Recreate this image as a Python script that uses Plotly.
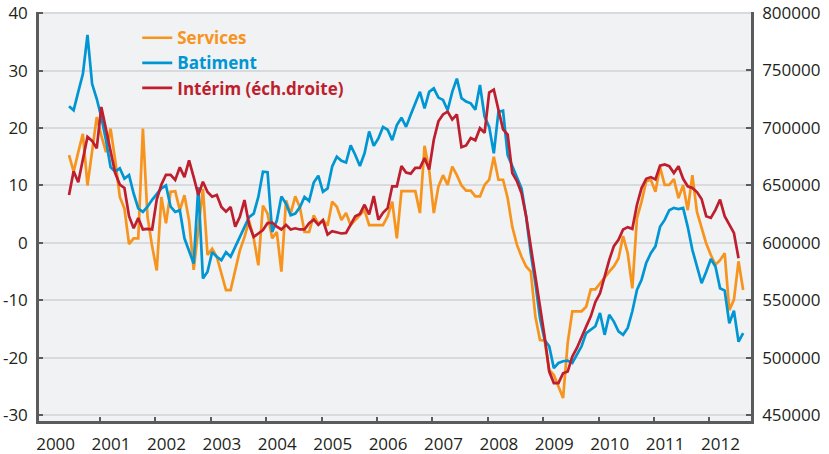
import plotly.graph_objects as go

# ---------------- data (monthly, first point ~ June 2000) ----------------
year_ticks = list(range(2001, 2013))
year_labels = [str(y) for y in range(2000, 2013)]
left_ticks = [-30, -20, -10, 0, 10, 20, 30, 40]
right_ticks = [450000, 500000, 550000, 600000, 650000, 700000, 750000, 800000]

services = [
    15.3, 12.4, 15.8, 19.0, 10.0, 16.4, 21.9, 18.7, 15.8, 19.9,
    14.4, 8.0, 6.0, -0.2, 0.8, 0.8, 19.9, 4.6, -0.6, -4.8,
    8.0, 3.4, 8.9, 9.0, 5.7, 8.3, 3.9, -4.7, 2.0, 9.4,
    -2.1, -1.0, -2.4, -5.3, -8.2, -8.2, -4.7, -1.3, 1.0, 3.9,
    0.8, -3.9, 6.5, 5.1, 0.8, 1.9, -5.0, 7.4, 5.1, 8.1,
    6.2, 1.9, 1.9, 4.8, 3.3, 4.0, 3.0, 7.2, 6.3, 4.0,
    5.2, 3.1, 4.0, 4.9, 5.7, 3.1, 3.1, 3.1, 3.1, 4.6,
    7.2, 0.8, 9.0, 9.0, 9.0, 9.0, 5.2, 16.9, 12.7, 5.2,
    9.8, 11.8, 10.1, 13.3, 11.8, 10.0, 9.1, 9.1, 8.1, 8.1,
    10.1, 11.0, 15.0, 11.0, 11.0, 7.8, 2.8, -0.3, -2.4, -4.1,
    -5.0, -12.8, -16.9, -17.0, -22.1, -23.0, -25.0, -27.0, -17.4, -11.9,
    -11.9, -11.9, -11.1, -8.1, -8.1, -7.0, -6.1, -5.0, -4.1, -2.7,
    1.2, -1.8, -7.9, 4.3, 7.2, 10.7, 11.0, 8.9, 13.2, 10.1,
    10.1, 11.1, 7.8, 10.1, 5.7, 11.8, 5.4, 2.8, -0.1, -2.1,
    -3.8, -3.0, -1.8, -11.7, -9.9, -3.2, -8.2,
]

batiment = [
    23.8, 23.1, 26.3, 29.4, 36.2, 27.7, 25.1, 21.9, 17.9, 13.2,
    12.4, 13.0, 11.2, 11.8, 8.6, 6.0, 5.4, 6.3, 7.5, 8.6,
    9.5, 10.0, 6.3, 5.4, 5.7, 0.8, -1.3, -3.6, 9.7, -6.2,
    -5.0, -1.6, -2.4, -3.0, -1.6, -2.4, -0.7, 1.0, 2.8, 4.5,
    5.1, 8.0, 12.4, 12.3, 1.9, 3.9, 8.1, 6.8, 4.8, 5.1,
    6.2, 8.0, 7.3, 10.5, 11.7, 8.9, 9.5, 13.3, 15.0, 14.3,
    14.0, 17.0, 15.3, 13.4, 15.6, 19.4, 16.9, 18.2, 20.2, 19.7,
    17.9, 20.5, 21.8, 20.2, 22.3, 24.3, 26.3, 23.4, 26.3, 26.9,
    25.3, 24.9, 23.1, 26.3, 28.6, 25.2, 24.6, 24.3, 23.2, 27.5,
    22.0, 20.2, 15.6, 22.8, 23.0, 15.3, 13.3, 11.5, 9.5, 4.6,
    -1.8, -7.0, -13.1, -16.9, -18.0, -21.8, -20.9, -20.6, -20.5, -20.9,
    -19.5, -18.0, -15.7, -15.1, -14.5, -12.2, -16.0, -12.5, -13.7, -15.4,
    -16.0, -14.8, -11.9, -8.2, -6.4, -3.5, -1.8, -0.6, 2.8, 4.0,
    5.7, 6.1, 5.9, 6.1, 2.8, -1.2, -4.1, -7.0, -5.0, -2.8,
    -4.1, -7.9, -8.3, -14.0, -11.8, -17.2, -15.7,
]

interim = [
    641500, 662000, 652500, 672000, 692000, 688500, 682000, 718000, 698000, 677500,
    660500, 650500, 647500, 623000, 612500, 621500, 611500, 612000, 611500, 637500,
    650500, 659000, 659000, 654500, 665500, 657000, 671500, 657000, 641500, 653000,
    644000, 640000, 641500, 631000, 627000, 631000, 614000, 622500, 637000, 615500,
    605000, 608000, 611000, 617000, 617500, 614000, 611500, 615500, 611500, 612500,
    611500, 611500, 617000, 620000, 615500, 619500, 607000, 610000, 609000, 608000,
    608500, 615500, 623000, 625000, 633000, 624500, 640500, 620000, 626000, 630000,
    649000, 649000, 666500, 661000, 660000, 665000, 665000, 673500, 663500, 689500,
    705500, 711500, 714000, 707000, 711500, 683000, 684500, 691000, 689000, 699500,
    695500, 730500, 733000, 715500, 698500, 694000, 660500, 653500, 643000, 623000,
    597000, 570500, 544500, 518500, 488000, 478000, 478000, 486500, 488000, 501000,
    508500, 517000, 527000, 536000, 548500, 556000, 570500, 585000, 597000, 602500,
    611500, 613500, 612000, 633000, 647500, 655500, 657000, 655000, 667000, 668000,
    666500, 660500, 666500, 655500, 649000, 647500, 644000, 638000, 623000, 621500,
    628500, 637500, 623000, 615500, 608500, 586500,
]

first_month = 5.3  # months after Jan 2000 of first observation
x_sb = [2000 + (first_month + i) / 12 for i in range(len(services))]
x_int = [2000 + (first_month + i) / 12 for i in range(len(interim))]

ORANGE = "#F7941D"
BLUE = "#0095D3"
RED = "#BE1E2D"
AXIS = "#5a5b5d"
GRID = "#d9dadd"
TXT = "#231f20"
FONT = "Open Sans"

fig = go.Figure()
fig.add_trace(go.Scatter(
    x=x_sb, y=services, mode="lines",
    line=dict(color=ORANGE, width=2.7),
    name=f"<b><span style='color:{ORANGE}'>Services</span></b>",
))
fig.add_trace(go.Scatter(
    x=x_sb, y=batiment, mode="lines",
    line=dict(color=BLUE, width=2.7),
    name=f"<b><span style='color:{BLUE}'>Batiment</span></b>",
))
fig.add_trace(go.Scatter(
    x=x_int, y=interim, mode="lines", yaxis="y2",
    line=dict(color=RED, width=2.7),
    name=f"<b><span style='color:{RED}'>Intérim (éch.droite)</span></b>",
))

fig.update_layout(
    width=829, height=454,
    margin=dict(l=39, r=78, t=12, b=33),
    paper_bgcolor="white",
    plot_bgcolor="#f0f2f4",
    font=dict(family=FONT, size=17, color=TXT),
    showlegend=True,
    legend=dict(
        x=0.138, y=0.98, xanchor="left", yanchor="top",
        bgcolor="rgba(0,0,0,0)", borderwidth=0,
        font=dict(family=FONT, size=17),
        tracegroupgap=0,
    ),
    xaxis=dict(
        range=[1999.9, 2012.75],
        automargin=False,
        tickmode="array",
        tickvals=[int(s) + 0.2 for s in year_labels],
        ticktext=year_labels,
        ticks="",
        showgrid=False, zeroline=False,
        showline=True, linecolor=AXIS, linewidth=2.5,
        ticklabelstandoff=6,
        tickfont=dict(family=FONT, size=17, color=TXT),
        minor=dict(tickmode="array", tickvals=year_ticks, ticks="inside",
                   ticklen=4, tickwidth=1.5, tickcolor=AXIS, showgrid=False),
    ),
    yaxis=dict(
        range=[-31, 40.2],
        automargin=False,
        tickmode="array", tickvals=left_ticks,
        ticktext=[str(v) for v in left_ticks],
        ticks="inside", ticklen=4, tickwidth=1.5, tickcolor=AXIS,
        showgrid=True, gridcolor=GRID, gridwidth=2,
        zeroline=False,
        showline=True, linecolor=AXIS, linewidth=2.5,
        tickfont=dict(family=FONT, size=17, color=TXT),
        ticklabelstandoff=5,
    ),
    yaxis2=dict(
        range=[445000, 800500],
        automargin=False,
        overlaying="y", side="right",
        tickmode="array", tickvals=right_ticks,
        ticktext=[str(v) for v in right_ticks],
        ticks="inside", ticklen=5, tickwidth=1.5, tickcolor=AXIS,
        showgrid=False, zeroline=False,
        showline=True, linecolor=AXIS, linewidth=2.5,
        tickfont=dict(family=FONT, size=17, color=TXT),
        ticklabelstandoff=5,
    ),
)

fig.write_html(
    "out.html",
    config={"displayModeBar": False},
    post_script="document.body.style.margin='0';document.body.style.padding='0';",
)
